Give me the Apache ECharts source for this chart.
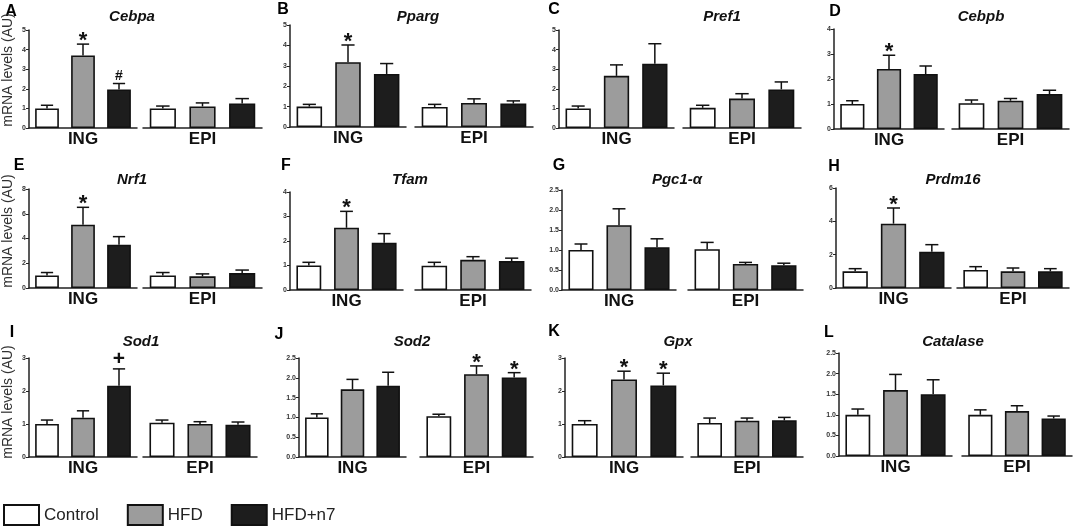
<!DOCTYPE html>
<html>
<head>
<meta charset="utf-8">
<script src="https://cdn.jsdelivr.net/npm/echarts@6/dist/echarts.min.js"></script>
<style>
  html, body { margin: 0; padding: 0; background: #fff; }
  #main { width: 1074px; height: 527px; }
</style>
</head>
<body>
<div id="main"></div>
<script>
// categories
var groups = ['ING', 'EPI'];
var treatments = ['Control', 'HFD', 'HFD+n7'];
var letters = ['A', 'B', 'C', 'D', 'E', 'F', 'G', 'H', 'I', 'J', 'K', 'L'];
var genes = ['Cebpa', 'Pparg', 'Pref1', 'Cebpb', 'Nrf1', 'Tfam', 'Pgc1-\u03b1', 'Prdm16', 'Sod1', 'Sod2', 'Gpx', 'Catalase'];

// means: ING (Control, HFD, HFD+n7), EPI (Control, HFD, HFD+n7)
var cebpaMean = [1.00, 3.70, 1.97, 1.00, 1.10, 1.25];
var ppargMean = [1.00, 3.18, 2.60, 0.98, 1.18, 1.15];
var pref1Mean = [1.00, 2.66, 3.28, 1.03, 1.50, 1.97];
var cebpbMean = [1.00, 2.40, 2.20, 1.03, 1.13, 1.40];
var nrf1Mean = [1.02, 5.12, 3.50, 1.02, 0.94, 1.21];
var tfamMean = [1.00, 2.54, 1.93, 0.99, 1.23, 1.18];
var pgc1Mean = [1.00, 1.62, 1.07, 1.02, 0.65, 0.62];
var prdm16Mean = [1.00, 3.86, 2.18, 1.08, 1.00, 1.00];
var sod1Mean = [1.00, 1.19, 2.16, 1.04, 1.00, 0.98];
var sod2Mean = [1.00, 1.71, 1.80, 1.03, 2.09, 2.01];
var gpxMean = [1.00, 2.35, 2.17, 1.03, 1.10, 1.11];
var catalaseMean = [1.00, 1.60, 1.50, 1.00, 1.09, 0.91];

// SEM (upper whisker)
var cebpaSem = [0.16, 0.58, 0.30, 0.12, 0.18, 0.25];
var ppargSem = [0.11, 0.84, 0.51, 0.13, 0.20, 0.13];
var pref1Sem = [0.12, 0.56, 1.02, 0.13, 0.25, 0.38];
var cebpbSem = [0.13, 0.55, 0.32, 0.13, 0.09, 0.15];
var nrf1Sem = [0.23, 1.40, 0.65, 0.23, 0.20, 0.24];
var tfamSem = [0.13, 0.67, 0.37, 0.14, 0.13, 0.12];
var pgc1Sem = [0.15, 0.41, 0.21, 0.17, 0.04, 0.05];
var prdm16Sem = [0.16, 0.94, 0.42, 0.20, 0.20, 0.16];
var sod1Sem = [0.12, 0.21, 0.51, 0.08, 0.07, 0.08];
var sod2Sem = [0.09, 0.25, 0.34, 0.05, 0.21, 0.12];
var gpxSem = [0.10, 0.25, 0.37, 0.15, 0.08, 0.09];
var catalaseSem = [0.14, 0.38, 0.35, 0.12, 0.13, 0.06];

// significance marks
var cebpaMarks = ['', '*', '#', '', '', ''];
var ppargMarks = ['', '*', '', '', '', ''];
var pref1Marks = ['', '', '', '', '', ''];
var cebpbMarks = ['', '*', '', '', '', ''];
var nrf1Marks = ['', '*', '', '', '', ''];
var tfamMarks = ['', '*', '', '', '', ''];
var pgc1Marks = ['', '', '', '', '', ''];
var prdm16Marks = ['', '*', '', '', '', ''];
var sod1Marks = ['', '', '+', '', '', ''];
var sod2Marks = ['', '', '', '', '*', '*'];
var gpxMarks = ['', '*', '*', '', '', ''];
var catalaseMarks = ['', '', '', '', '', ''];

// y axis max and tick step per panel
var yMax = [5, 5, 5, 4, 8, 4, 2.5, 6, 3, 2.5, 3, 2.5];
var yStep = [1, 1, 1, 1, 2, 1, 0.5, 2, 1, 0.5, 1, 0.5];

var means = [cebpaMean, ppargMean, pref1Mean, cebpbMean, nrf1Mean, tfamMean, pgc1Mean, prdm16Mean, sod1Mean, sod2Mean, gpxMean, catalaseMean];
var sems = [cebpaSem, ppargSem, pref1Sem, cebpbSem, nrf1Sem, tfamSem, pgc1Sem, prdm16Sem, sod1Sem, sod2Sem, gpxSem, catalaseSem];
var marks = [cebpaMarks, ppargMarks, pref1Marks, cebpbMarks, nrf1Marks, tfamMarks, pgc1Marks, prdm16Marks, sod1Marks, sod2Marks, gpxMarks, catalaseMarks];

// panel layout: y axis x, ING end, EPI start, EPI end, top, bottom, title center x
var layout = [
  [29, 137, 143, 262, 30, 128, 132],
  [290, 406, 415, 533, 25, 127, 418],
  [559, 674, 683, 801, 30, 128, 722],
  [834, 944, 952, 1069, 29, 129, 981],
  [29, 137, 143, 262, 189, 288, 132],
  [290, 403, 415, 531, 192, 290, 410],
  [562, 676, 688, 803, 190, 290, 677],
  [836, 951, 957, 1069, 188, 288, 953],
  [29, 137, 143, 257, 358, 457, 141],
  [299, 406, 420, 533, 358, 457, 412],
  [565, 683, 691, 803, 358, 457, 678],
  [839, 952, 962, 1072, 353, 456, 953]
];
var titleY = [17, 180, 342];
var letterPos = [[11, 12], [283, 10], [554, 10], [835, 12], [19, 166], [286, 166], [559, 166], [834, 167],
                 [12, 333], [279, 335], [554, 332], [829, 333]];
var barColors = ['#ffffff', '#9c9c9c', '#1d1d1d'];
var markStyle = { '*': { size: 22, dy: -3 }, '#': { size: 14, dy: -7 }, '+': { size: 21, dy: -10 } };
var FONT = 'Arial, "Liberation Sans", sans-serif';

var grids = [], xAxes = [], yAxes = [], series = [], graphics = [];

function makeErrRender(markList) {
  return function (params, api) {
    var x = api.value(0), m = api.value(1), e = api.value(2);
    var p0 = api.coord([x, m]), p1 = api.coord([x, e]);
    var half = api.size([1, 0])[0] * 0.17;
    var ls = { stroke: '#111', lineWidth: 1.5 };
    var children = [
      { type: 'line', shape: { x1: p0[0], y1: p0[1], x2: p1[0], y2: p1[1] }, style: ls },
      { type: 'line', shape: { x1: p1[0] - half, y1: p1[1], x2: p1[0] + half, y2: p1[1] }, style: ls }
    ];
    var mk = markList[params.dataIndex];
    if (mk) {
      var st = markStyle[mk];
      children.push({
        type: 'text', x: p1[0], y: p1[1] + st.dy,
        style: { text: mk, fill: '#111', font: 'bold ' + st.size + 'px ' + FONT, textAlign: 'center', textVerticalAlign: 'middle' }
      });
    }
    return { type: 'group', children: children };
  };
}

for (var p = 0; p < 12; p++) {
  var L = layout[p];
  for (var k = 0; k < 2; k++) {
    var g = p * 2 + k;
    var left = k === 0 ? L[0] : L[2];
    var right = k === 0 ? L[1] : L[3];
    grids.push({ left: left, width: right - left, top: L[4], height: L[5] - L[4], outerBoundsMode: 'none' });
    xAxes.push({
      type: 'category', gridIndex: g, data: treatments,
      axisLine: { lineStyle: { color: '#222', width: 1.5 } },
      axisTick: { alignWithLabel: true, length: 3, lineStyle: { color: '#222', width: 1 } },
      axisLabel: { show: false },
      name: groups[k], nameLocation: 'middle', nameGap: 3,
      nameTextStyle: { fontFamily: FONT, fontSize: 17, fontWeight: 'bold', color: '#111' }
    });
    var dec = yStep[p] < 1;
    yAxes.push({
      type: 'value', gridIndex: g, min: 0, max: yMax[p], interval: yStep[p],
      show: k === 0,
      splitLine: { show: false },
      axisLine: { show: true, lineStyle: { color: '#222', width: 1.5 } },
      axisTick: { show: true, length: 3, lineStyle: { color: '#222', width: 1 } },
      axisLabel: {
        fontFamily: FONT, fontSize: 7, fontWeight: 'bold', color: '#333', margin: 3,
        formatter: (function (d) { return function (v) { return d ? v.toFixed(1) : String(v); }; })(dec)
      }
    });
    for (var t = 0; t < 3; t++) {
      var d = [0, 1, 2].map(function (i) { return i === t ? means[p][k * 3 + i] : '-'; });
      series.push({
        type: 'bar', name: treatments[t], xAxisIndex: g, yAxisIndex: g,
        data: d, barWidth: '66%', barGap: '-100%', silent: true,
        itemStyle: { color: barColors[t], borderColor: '#111', borderWidth: 1.6 }
      });
    }
    var errData = [0, 1, 2].map(function (i) {
      return [i, means[p][k * 3 + i], means[p][k * 3 + i] + sems[p][k * 3 + i]];
    });
    series.push({
      type: 'custom', xAxisIndex: g, yAxisIndex: g, data: errData, z: 5, silent: true,
      renderItem: makeErrRender(marks[p].slice(k * 3, k * 3 + 3))
    });
  }
  graphics.push({
    type: 'text', x: L[6], y: titleY[Math.floor(p / 4)],
    style: { text: genes[p], fill: '#111', font: 'italic bold 15px ' + FONT, textAlign: 'center', textVerticalAlign: 'middle' }
  });
  graphics.push({
    type: 'text', x: letterPos[p][0], y: letterPos[p][1],
    style: { text: letters[p], fill: '#000', font: 'bold 16px ' + FONT, textAlign: 'center', textVerticalAlign: 'middle' }
  });
}

// y axis titles, first column
[70, 231, 402].forEach(function (cy) {
  graphics.push({
    type: 'text', x: 8, y: cy, rotation: Math.PI / 2,
    style: { text: 'mRNA levels (AU)', fill: '#333', font: '14px ' + FONT, textAlign: 'center', textVerticalAlign: 'middle' }
  });
});

var myChart = echarts.init(document.getElementById('main'));
var option = {
  backgroundColor: '#fff',
  animation: false,
  legend: {
    left: -2, top: 499, itemWidth: 35, itemHeight: 20, itemGap: 28, icon: 'rect',
    selectedMode: false, data: treatments,
    textStyle: { fontFamily: FONT, fontSize: 17, color: '#222' }
  },
  grid: grids,
  xAxis: xAxes,
  yAxis: yAxes,
  series: series,
  graphic: graphics
};
myChart.setOption(option);
window.onresize = myChart.resize;
</script>
</body>
</html>
